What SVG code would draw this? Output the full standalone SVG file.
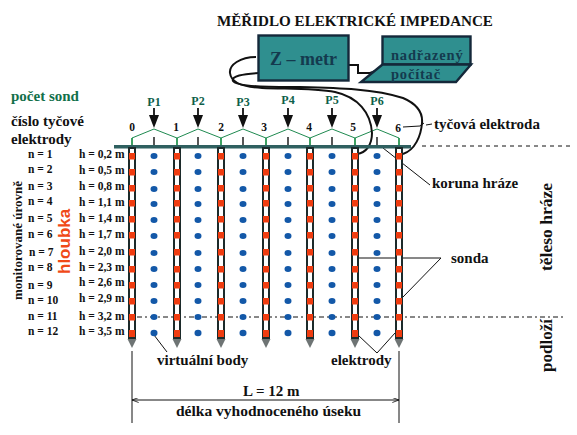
<svg xmlns="http://www.w3.org/2000/svg" xmlns:xlink="http://www.w3.org/1999/xlink" width="577" height="435" viewBox="0 0 577 435">
<style>
text{font-family:"Liberation Serif","Times New Roman",serif;font-weight:bold;fill:#111}
.lv{font-size:11.500px}
.pl{font-size:12px;fill:#0f5f4a;text-anchor:middle}
.num{font-size:11.500px;text-anchor:middle}
.lab{font-size:15px}
.box{fill:#2f8f8f;stroke:#14283a;stroke-width:2.400}
.boxt{fill:#143a4e}
.thin{fill:none;stroke:#111;stroke-width:1}
.cable{fill:none;stroke:#111;stroke-width:2}
.zig{fill:none;stroke:#1f8a50;stroke-width:1}
.pin{stroke:#0d8a3c;stroke-width:1.600}
.tick{stroke:#111;stroke-width:1.400}
.dot{fill:#1358a8}
.sq{fill:#f03c10}
</style>
<defs>
<g id="rod">
<rect x="-3" y="148" width="6" height="190" fill="#fff" stroke="#1c2a2a" stroke-width="2"/>
<g class="sq">
<rect x="-3" y="153" width="6" height="6.500"/><rect x="-3" y="169" width="6" height="6.500"/><rect x="-3" y="185" width="6" height="6.500"/><rect x="-3" y="200" width="6" height="6.500"/><rect x="-3" y="216" width="6" height="6.500"/><rect x="-3" y="232" width="6" height="6.500"/><rect x="-3" y="249" width="6" height="6.500"/><rect x="-3" y="266" width="6" height="6.500"/><rect x="-3" y="282" width="6" height="6.500"/><rect x="-3" y="298" width="6" height="6.500"/><rect x="-3" y="314" width="6" height="6.500"/><rect x="-3" y="330" width="6" height="7"/>
</g>
<polygon points="-4.500,339 4.500,339 0,348" fill="#6e7474"/>
</g>
<g id="col">
<ellipse class="dot" cx="0" cy="156" rx="3.500" ry="3"/><ellipse class="dot" cx="0" cy="172" rx="3.500" ry="3"/><ellipse class="dot" cx="0" cy="189" rx="3.500" ry="3"/><ellipse class="dot" cx="0" cy="204" rx="3.500" ry="3"/><ellipse class="dot" cx="0" cy="220" rx="3.500" ry="3"/><ellipse class="dot" cx="0" cy="236" rx="3.500" ry="3"/><ellipse class="dot" cx="0" cy="253" rx="3.500" ry="3"/><ellipse class="dot" cx="0" cy="269" rx="3.500" ry="3"/><ellipse class="dot" cx="0" cy="285" rx="3.500" ry="3"/><ellipse class="dot" cx="0" cy="301" rx="3.500" ry="3"/><ellipse class="dot" cx="0" cy="317" rx="3.500" ry="3"/><ellipse class="dot" cx="0" cy="333" rx="3.500" ry="3.200"/>
<line class="tick" x1="0" y1="137" x2="0" y2="145"/>
</g>
<g id="arrow">
<line x1="0" y1="-20" x2="0" y2="-8" stroke="#111" stroke-width="1.800"/>
<polygon points="-5,-13 5,-13 0,0" fill="#111"/>
</g>
<marker id="dim" viewBox="0 0 8 6" refX="8" refY="3" markerWidth="7" markerHeight="5" orient="auto-start-reverse"><path d="M0,0L8,3L0,6" fill="none" stroke="#111"/></marker>
</defs>
<g id="connectors">
<path class="zig" d="M132,138L154,129L177,138L198,129L221,138L243,129L266,138L288,129L310,138L332,129L355,138L377,129L399,138"/>
<g class="pin"><line x1="132" y1="138" x2="132" y2="145"/><line x1="177" y1="138" x2="177" y2="145"/><line x1="221" y1="138" x2="221" y2="145"/><line x1="266" y1="138" x2="266" y2="145"/><line x1="310" y1="138" x2="310" y2="145"/><line x1="355" y1="138" x2="355" y2="145"/><line x1="399" y1="138" x2="399" y2="145"/></g>
<use xlink:href="#arrow" x="154" y="128"/><use xlink:href="#arrow" x="198" y="128"/><use xlink:href="#arrow" x="243" y="128"/><use xlink:href="#arrow" x="288" y="128"/><use xlink:href="#arrow" x="332" y="128"/><use xlink:href="#arrow" x="377" y="128"/>
<path class="cable" d="M256,57C240,57 229,65 230,73C231,82 240,87 262,88C290,89 315,88 335,92C358,97 371,113 372,133C372,145 366,153 357,154"/>
<path class="cable" d="M258,73C243,74 231,76 233,81C237,87 270,87 300,87C340,88 375,89 403,98C417,104 423,112 422,123C421,136 415,150 403,154"/>
<path class="cable" d="M348,65L358,65L358,73L370,73L378,70"/>
<path class="thin" d="M403,127L420,126M420,126L424,123M426,125L432,124"/>
<path class="thin" d="M383,148L430,185"/>
<path class="thin" d="M358,258L441,258L403,297"/>
<path class="thin" d="M154,335L167,352"/>
<path class="thin" d="M358,335L377,353L395,333"/>
<path class="thin" d="M132,351V423M399,351V423"/>
<line class="thin" x1="132" y1="400" x2="399" y2="400" marker-start="url(#dim)" marker-end="url(#dim)"/>
<path class="thin" stroke-dasharray="4 4" d="M422,146H570"/>
<path class="thin" stroke-dasharray="5 3 2 3" d="M137,317H565"/>
</g>
<g id="dam-crest"><rect x="114" y="145" width="297" height="3.500" fill="#2f6060"/></g>
<g id="probes">
<use xlink:href="#col" x="154"/><use xlink:href="#col" x="198"/><use xlink:href="#col" x="243"/><use xlink:href="#col" x="288"/><use xlink:href="#col" x="332"/><use xlink:href="#col" x="377"/>
</g>
<g id="electrodes">
<use xlink:href="#rod" x="132"/><use xlink:href="#rod" x="177"/><use xlink:href="#rod" x="221"/><use xlink:href="#rod" x="266"/><use xlink:href="#rod" x="310"/><use xlink:href="#rod" x="355"/><use xlink:href="#rod" x="399"/>
</g>
<g id="electrode-numbers">
<text class="num" x="132" y="131">0</text><text class="num" x="176" y="131">1</text><text class="num" x="221" y="131">2</text><text class="num" x="264" y="131">3</text><text class="num" x="309" y="131">4</text><text class="num" x="353" y="131">5</text><text class="num" x="398" y="132">6</text>
</g>
<g id="probe-labels">
<text class="pl" x="154" y="106">P1</text><text class="pl" x="198" y="105">P2</text><text class="pl" x="243" y="106">P3</text><text class="pl" x="288" y="104">P4</text><text class="pl" x="332" y="104">P5</text><text class="pl" x="377" y="105">P6</text>
</g>
<g id="title"><text x="217" y="26" font-size="15.100">MĚŘIDLO ELEKTRICKÉ IMPEDANCE</text></g>
<g id="z-metr">
<rect class="box" x="258.500" y="35.500" width="90" height="45"/>
<text class="boxt" x="270" y="65" font-size="18">Z – metr</text>
</g>
<g id="pocitac">
<rect class="box" x="382.500" y="36.500" width="88" height="28"/>
<polygon class="box" points="382.500,64.500 471,64.500 456,82 361,82"/>
<text class="boxt" x="391" y="60" font-size="14.500" letter-spacing=".8">nadřazený</text>
<text class="boxt" x="391" y="79" font-size="14.500" letter-spacing=".8">počítač</text>
</g>
<g id="left-labels">
<text x="11" y="101" font-size="15" style="fill:#12704a">počet sond</text>
<text x="11" y="126" font-size="15">číslo tyčové</text>
<text x="11" y="144" font-size="15">elektrody</text>
</g>
<g id="levels">
<text class="lv" x="28" y="158">n = 1</text><text class="lv" x="28" y="173">n = 2</text><text class="lv" x="28" y="190">n = 3</text><text class="lv" x="28" y="205">n = 4</text><text class="lv" x="28" y="222">n = 5</text><text class="lv" x="28" y="238">n = 6</text><text class="lv" x="29" y="256">n = 7</text><text class="lv" x="28" y="271">n = 8</text><text class="lv" x="28" y="289">n = 9</text><text class="lv" x="28" y="304">n = 10</text><text class="lv" x="28" y="320">n = 11</text><text class="lv" x="28" y="335">n = 12</text>
<text class="lv" x="79" y="158">h = 0,2 m</text><text class="lv" x="79" y="174">h = 0,5 m</text><text class="lv" x="79" y="190">h = 0,8 m</text><text class="lv" x="79" y="206">h = 1,1 m</text><text class="lv" x="79" y="222">h = 1,4 m</text><text class="lv" x="79" y="238">h = 1,7 m</text><text class="lv" x="79" y="255">h = 2,0 m</text><text class="lv" x="79" y="271">h = 2,3 m</text><text class="lv" x="79" y="286">h = 2,6 m</text><text class="lv" x="79" y="302">h = 2,9 m</text><text class="lv" x="79" y="320">h = 3,2 m</text><text class="lv" x="79" y="335">h = 3,5 m</text>
</g>
<g id="side-labels">
<text transform="translate(22,300) rotate(-90)" font-size="13">monitorované úrovně</text>
<text transform="translate(70,274) rotate(-90)" font-size="17" style="font-family:'Liberation Sans',Arial,sans-serif;fill:#f04a18">hloubka</text>
<text transform="translate(552,271) rotate(-90)" font-size="17.500">těleso hráze</text>
<text transform="translate(552,372) rotate(-90)" font-size="17">podloží</text>
</g>
<g id="callouts">
<text class="lab" x="434" y="129">tyčová elektroda</text>
<text class="lab" x="432" y="188">koruna hráze</text>
<text class="lab" x="451" y="263">sonda</text>
<text class="lab" x="157" y="365">virtuální body</text>
<text class="lab" x="331" y="365">elektrody</text>
<text class="lab" x="243" y="396">L = 12  m</text>
<text class="lab" x="176" y="416" style="font-size:15.500px">délka vyhodnoceného úseku</text>
</g>
</svg>
